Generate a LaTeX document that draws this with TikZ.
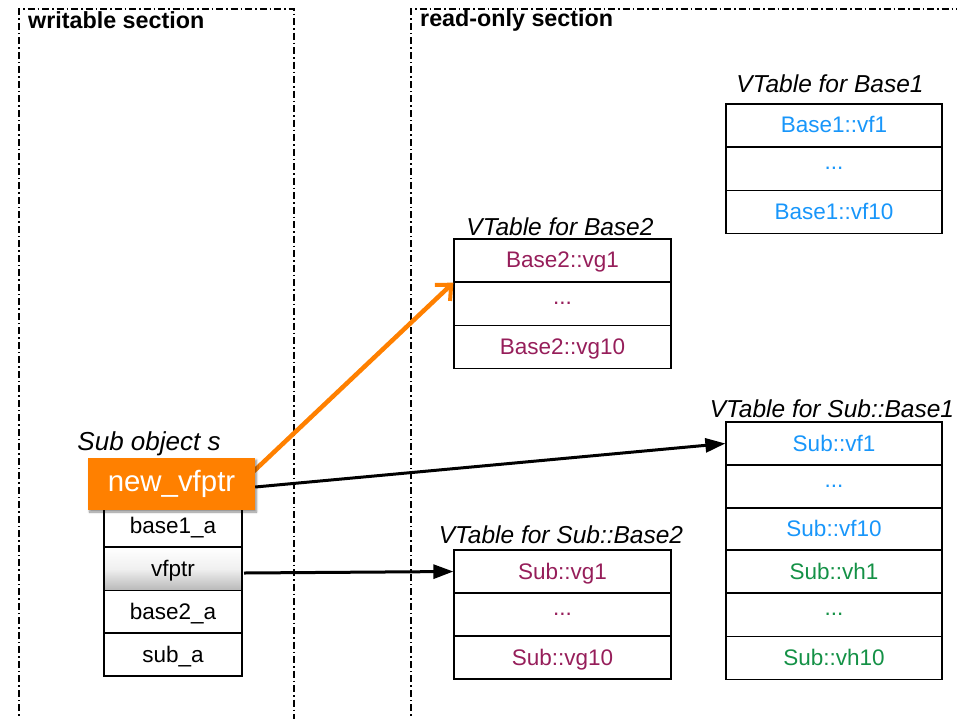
\documentclass[tikz,border=0pt]{standalone}
\usepackage{fontspec}
\setmainfont{Liberation Sans}
\usetikzlibrary{arrows.meta,shadows.blur}
\definecolor{vfblue}{RGB}{24,150,250}
\definecolor{vgpurple}{RGB}{150,30,90}
\definecolor{vhgreen}{RGB}{20,145,70}
\definecolor{ptrorange}{RGB}{255,128,0}
\begin{document}
\begin{tikzpicture}[x=1pt,y=-1pt,
  section/.style={line width=1.3pt,dash pattern=on 7pt off 3pt on 1.5pt off 3pt},
  sectitle/.style={font=\fontsize{23.3}{25}\selectfont\bfseries,anchor=west,inner sep=0},
  vtitle/.style={font=\fontsize{24.5}{26}\selectfont\itshape,inner sep=0},
  cell/.style={draw,line width=1.3pt,minimum height=43pt,inner sep=0,
    text depth=0.25ex,font=\fontsize{22.5}{24}\selectfont},
  wide/.style={cell,minimum width=216pt},
  narrow/.style={cell,minimum width=138pt},
  ptr/.style={line width=3pt,-{Triangle[length=20pt,width=14pt]}},
  newptr/.style={line width=4.5pt,ptrorange,-{Straight Barb[length=12pt,width=22pt,line width=4pt]}},
]
\useasboundingbox (0,0) rectangle (957,718);

% memory sections
\draw[section] (19,740) -- (19,9) -- (294,9) -- (294,740);
\draw[section] (411,740) -- (411,9) -- (980,9);
\node[sectitle] (wtitle) at (28,20) {writable section};
\node[sectitle] (rtitle) at (420,20) {read-only section};

% VTable for Base1
\node[vtitle] (t1) at (830,84) {VTable for Base1};
\node[wide,text=vfblue] (b1a) at (834,125.5) {Base1::vf1};
\node[wide,text=vfblue] (b1b) at (834,169) {...};
\node[wide,text=vfblue] (b1c) at (834,212) {Base1::vf10};

% VTable for Base2
\node[vtitle] (t2) at (560,227) {VTable for Base2};
\node[cell,minimum width=217pt,text=vgpurple] (b2a) at (562.5,260.5) {Base2::vg1};
\node[cell,minimum width=217pt,text=vgpurple] (b2b) at (562.5,304) {...};
\node[cell,minimum width=217pt,text=vgpurple] (b2c) at (562.5,347) {Base2::vg10};

% VTable for Sub::Base1
\node[vtitle] (t3) at (832,409) {VTable for Sub::Base1};
\node[wide,text=vfblue] (s1a) at (834,443.5) {Sub::vf1};
\node[wide,text=vfblue] (s1b) at (834,486.5) {...};
\node[wide,text=vfblue] (s1c) at (834,529) {Sub::vf10};
\node[wide,text=vhgreen] (s1d) at (834,571.5) {Sub::vh1};
\node[wide,text=vhgreen] (s1e) at (834,615) {...};
\node[wide,text=vhgreen] (s1f) at (834,658) {Sub::vh10};

% VTable for Sub::Base2
\node[vtitle] (t4) at (561,535) {VTable for Sub::Base2};
\node[cell,minimum width=217pt,text=vgpurple] (s2a) at (562.5,571.5) {Sub::vg1};
\node[cell,minimum width=217pt,text=vgpurple] (s2b) at (562.5,614.5) {...};
\node[cell,minimum width=217pt,text=vgpurple] (s2c) at (562.5,657.5) {Sub::vg10};

% Sub object s
\node[vtitle,font=\fontsize{26}{28}\selectfont\itshape] (t5) at (149,444) {Sub object s};
\node[narrow] (oa) at (173,525.5) {base1\_a};
\node[narrow,top color=white,bottom color=black!28,middle color=black!6] (ob) at (173,569) {vfptr};
\node[narrow] (oc) at (173,612) {base2\_a};
\node[narrow] (od) at (173,654.5) {sub\_a};

% pointers
\coordinate (nstart) at (236,488);
\draw[newptr] (nstart) -- (b2a.south west);
\node[fill=ptrorange,minimum width=167pt,minimum height=52pt,inner sep=0,
  text=white,font=\fontsize{29.4}{31}\selectfont,
  blur shadow={shadow xshift=1.5pt,shadow yshift=-2pt,shadow blur steps=6,shadow opacity=45}]
  (nv) at (171.5,484) {new\_vfptr};
\draw[ptr] (nv.east |- 0,487) -- (s1a.west);
\coordinate (vstart) at (244,573);
\draw[ptr] (vstart) -- (s2a.west);
\end{tikzpicture}
\end{document}
